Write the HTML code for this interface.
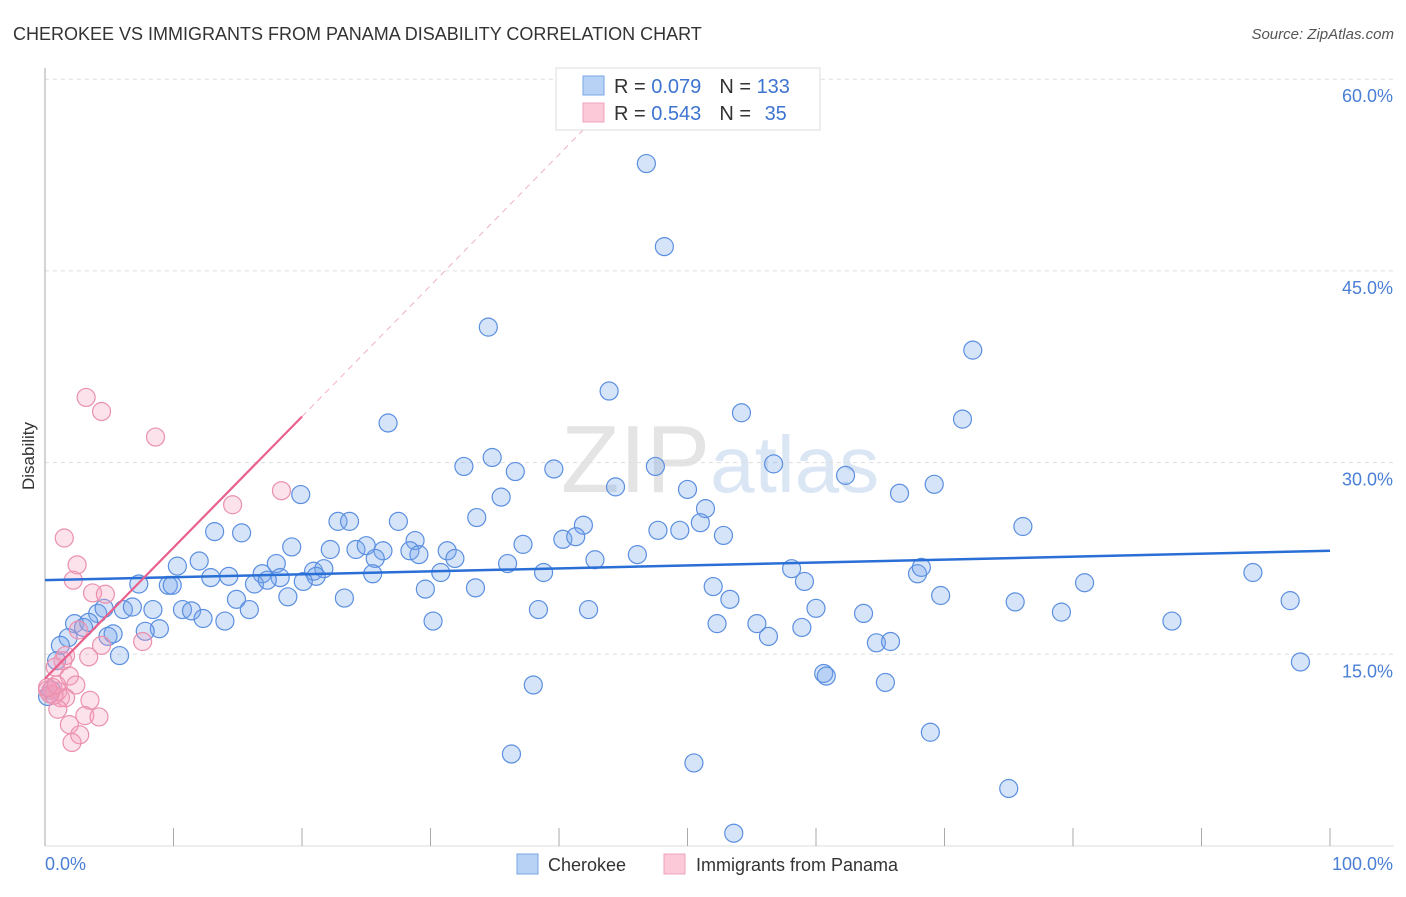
<!DOCTYPE html>
<html><head><meta charset="utf-8">
<style>
body{margin:0;background:#fff;font-family:"Liberation Sans",sans-serif;}
svg text{font-family:"Liberation Sans",sans-serif;}
</style></head>
<body>
<svg id="chart" width="1406" height="892" viewBox="0 0 1406 892" xmlns="http://www.w3.org/2000/svg">
<text x="13" y="40" font-size="18" fill="#333">CHEROKEE VS IMMIGRANTS FROM PANAMA DISABILITY CORRELATION CHART</text>
<text x="1394" y="39" font-size="15" fill="#555" text-anchor="end" font-style="italic">Source: ZipAtlas.com</text>
<text x="720" y="492" font-size="96" fill="#e4e4e4" text-anchor="middle" font-family="Liberation Serif"><tspan>ZIP</tspan><tspan fill="#dbe6f5" font-family="Liberation Sans" font-size="80">atlas</tspan></text>
<g id="grid"></g>
<g id="axes"></g>
<g id="pts"></g>
<g id="trend"></g>
<text transform="translate(34,456) rotate(-90)" font-size="17" fill="#333" text-anchor="middle">Disability</text>
<text x="45" y="870" font-size="18" fill="#4a7fd6">0.0%</text>
<text x="1393" y="870" font-size="18" fill="#4a7fd6" text-anchor="end">100.0%</text>
<g>
<rect x="556" y="68" width="264" height="62" fill="#fff" stroke="#ddd"/>
<rect x="583" y="76" width="21" height="19" fill="#b8d2f5" stroke="#7aa6e6"/>
<rect x="583" y="103" width="21" height="19" fill="#fbc9d8" stroke="#efa3bc"/>
<text x="614" y="93" font-size="20" fill="#333">R = <tspan fill="#3d74d1">0.079</tspan><tspan dx="18">N = </tspan><tspan fill="#3d74d1">133</tspan></text>
<text x="614" y="120" font-size="20" fill="#333">R = <tspan fill="#3d74d1">0.543</tspan><tspan dx="18">N = </tspan><tspan fill="#3d74d1" dx="8">35</tspan></text>
</g>
<g>
<rect x="517" y="854" width="21" height="20" fill="#b8d2f5" stroke="#7aa6e6"/>
<text x="548" y="871" font-size="18" fill="#333">Cherokee</text>
<rect x="664" y="854" width="21" height="20" fill="#fbc9d8" stroke="#efa3bc"/>
<text x="696" y="871" font-size="18" fill="#333">Immigrants from Panama</text>
</g>
</svg>
<script>
const yTicks=[15,30,45,60];
const yTickLabels=["15.0%","30.0%","45.0%","60.0%"];
const xTicks=[0,10,20,30,40,50,60,70,80,90,100];
const blueX=[46.8,48.2,34.5,72.2,43.9,54.2,71.4,26.7,34.8,32.6,36.6,39.6,47.5,56.7,62.3,44.4,50.0,66.5,69.2,19.9,35.5,51.4,33.6,22.8,23.7,27.5,41.9,51.0,47.7,49.4,76.1,13.2,15.3,52.8,19.2,37.2,40.3,41.3,28.8,22.2,24.2,25.0,26.3,28.4,31.3,46.1,12.0,10.3,18.0,25.7,29.1,31.9,36.0,42.8,20.9,21.7,16.9,21.1,25.5,30.8,38.8,58.1,67.9,68.2,94.0,12.9,14.3,18.3,16.3,17.3,20.1,7.3,9.6,9.9,29.6,33.5,52.0,59.1,80.9,14.9,18.9,23.3,53.3,69.7,75.5,96.9,4.1,4.6,6.1,6.8,8.4,10.7,11.4,12.3,14.0,15.9,38.4,42.3,60.0,63.7,79.1,2.3,3.4,3.0,30.2,52.3,55.4,87.7,1.8,4.9,5.3,8.9,7.8,56.3,58.9,64.7,65.8,1.2,5.8,0.9,97.7,60.6,60.8,65.4,38.0,68.9,36.3,50.5,75.0,53.6,0.5,0.2];
const blueY=[53.4,46.9,40.6,38.8,35.6,33.9,33.4,33.1,30.4,29.7,29.3,29.5,29.7,29.9,29.0,28.1,27.9,27.6,28.3,27.5,27.3,26.4,25.7,25.4,25.4,25.4,25.1,25.3,24.7,24.7,25.0,24.6,24.5,24.3,23.4,23.6,24.0,24.2,23.9,23.2,23.2,23.5,23.1,23.1,23.1,22.8,22.3,21.9,22.1,22.5,22.8,22.5,22.1,22.4,21.5,21.7,21.3,21.1,21.3,21.4,21.4,21.7,21.3,21.8,21.4,21.0,21.1,21.0,20.5,20.8,20.7,20.5,20.4,20.4,20.1,20.2,20.3,20.7,20.6,19.3,19.5,19.4,19.3,19.6,19.1,19.2,18.2,18.6,18.5,18.7,18.5,18.5,18.4,17.8,17.6,18.5,18.5,18.5,18.6,18.2,18.3,17.4,17.5,17.1,17.6,17.4,17.4,17.6,16.3,16.4,16.6,17.0,16.8,16.4,17.1,15.9,16.0,15.7,14.9,14.5,14.4,13.5,13.3,12.8,12.6,8.9,7.2,6.5,4.5,1.0,12.2,11.7];
const pinkX=[3.2,4.4,8.6,18.4,14.6,1.5,2.5,2.2,3.7,4.7,2.6,4.4,7.6,1.6,3.4,1.4,0.8,1.9,2.4,0.2,0.6,1.0,1.2,1.6,3.5,1.0,3.1,4.2,1.9,2.7,2.1,0.4,0.7,0.2,0.9];
const pinkY=[35.1,34.0,32.0,27.8,26.7,24.1,22.0,20.8,19.8,19.7,16.9,15.7,16.0,14.9,14.8,14.5,14.0,13.3,12.6,12.2,12.4,12.1,11.6,11.6,11.4,10.7,10.2,10.1,9.5,8.7,8.1,11.9,11.8,12.4,12.6];
const blueTrend=[20.8,23.1];      // y at x=0 and x=100
const pinkTrend=[13.1,1.025];     // intercept, slope
const pinkSolidEnd=20, pinkDashEnd=42;

const NS="http://www.w3.org/2000/svg";
const X0=45,X1=1330,Y0=846,YPER=191.7/15;
function sx(v){return X0+(X1-X0)*v/100;}
function sy(v){return Y0-v*YPER;}
function mk(tag,attrs,parent){const e=document.createElementNS(NS,tag);for(const k in attrs)e.setAttribute(k,attrs[k]);parent.appendChild(e);return e;}

const grid=document.getElementById('grid');
yTicks.forEach((t,i)=>{
  const l=mk('line',{x1:X0,x2:1394,y1:sy(t),y2:sy(t),stroke:'#ddd','stroke-dasharray':'4,4'},grid);
  
  
  const tx=mk('text',{x:1393,y:sy(t)+23,'font-size':18,fill:'#4a7fd6','text-anchor':'end'},grid);
  tx.textContent=yTickLabels[i];
  
  
});
const axes=document.getElementById('axes');
const ya=mk('line',{x1:X0,x2:X0,y1:68,y2:Y0,stroke:'#aaa'},axes);


const xa=mk('line',{x1:X0,x2:1394,y1:Y0,y2:Y0,stroke:'#ddd'},axes);


xTicks.forEach(t=>{
  const l=mk('line',{x1:sx(t),x2:sx(t),y1:828,y2:Y0,stroke:'#aaa'},axes);
  
  
});
const pts=document.getElementById('pts');
blueX.forEach((x,i)=>{
  const c=mk('circle',{cx:sx(x),cy:sy(blueY[i]),r:9,fill:'rgba(120,165,235,0.3)',stroke:'#5b8fe0','stroke-width':1.2},pts);
  
  
});
pinkX.forEach((x,i)=>{
  const c=mk('circle',{cx:sx(x),cy:sy(pinkY[i]),r:9,fill:'rgba(245,160,190,0.3)',stroke:'#ea90ae','stroke-width':1.2},pts);
  
  
});
const tr=document.getElementById('trend');
const bl=mk('line',{x1:sx(0),y1:sy(blueTrend[0]),x2:sx(100),y2:sy(blueTrend[1]),stroke:'#2a6fd6','stroke-width':2.5},tr);


const pf=v=>pinkTrend[0]+pinkTrend[1]*v;
const pd=mk('line',{x1:sx(pinkSolidEnd),y1:sy(pf(pinkSolidEnd)),x2:sx(pinkDashEnd),y2:sy(pf(pinkDashEnd)),stroke:'#f0b0c4','stroke-width':1,'stroke-dasharray':'6,5'},tr);


const pl=mk('line',{x1:sx(0),y1:sy(pf(0)),x2:sx(pinkSolidEnd),y2:sy(pf(pinkSolidEnd)),stroke:'#e8608c','stroke-width':2.2},tr);


</script>
</body></html>
